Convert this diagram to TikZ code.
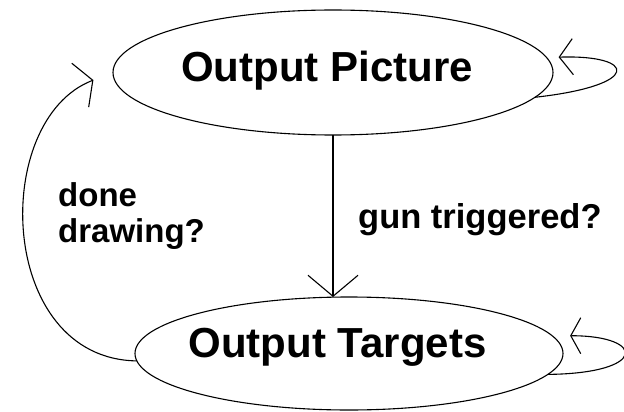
\documentclass[tikz,border=0pt]{standalone}
\usepackage{fontspec}
\setmainfont{Liberation Sans}
\usetikzlibrary{shapes.geometric,arrows.meta,calc}
\begin{document}
\begin{tikzpicture}[x=1pt,y=-1pt,
  state/.style={draw, ellipse, line width=1.1pt, inner sep=0pt, outer sep=0pt},
  lbl/.style={font=\bfseries\fontsize{42}{48}\selectfont, inner sep=0pt},
  edge/.style={line width=1.1pt},
  guard/.style={font=\bfseries\fontsize{33}{36}\selectfont, inner sep=0pt, align=left}]
\clip (0,0) rectangle (624,412);
\fill[white] (0,0) rectangle (624,412);

% the two states
\node[state, minimum width=440pt, minimum height=125pt,
      label={[lbl, xshift=-6pt, yshift=1.4pt]center:Output Picture}] (pic) at (333,72.5) {};
\node[state, minimum width=428pt, minimum height=113pt,
      label={[lbl, xshift=-11.5pt, yshift=6.4pt]center:Output Targets}] (tgt) at (349,353.5) {};

% transitions
\draw[edge, -{Straight Barb[length=21pt,width=50pt]}] (pic.south) -- (pic.south |- tgt.north);
\draw[edge, shorten >=12pt, -{Straight Barb[length=13.5pt,width=36pt]}]
  (pic.-7) .. controls +(108,-12) and +(90,-3) .. (pic.4);
\draw[edge, shorten >=18pt, -{Straight Barb[length=10pt,width=36pt]}]
  (tgt.-6) .. controls +(100,-1) and +(94,0) .. (tgt.5);
\draw[edge, shorten >=21pt, -{Straight Barb[length=13.5pt,width=47pt]}]
  (tgt.182) .. controls +(-140,-2) and +(-123,47.5) .. (pic.west);

% transition conditions
\node[guard, anchor=north west] (done) at (58,182) {done\\drawing?};
\node[guard, font=\bfseries\fontsize{34.5}{38}\selectfont, anchor=base west] (gun) at (358,228) {gun triggered?};
\end{tikzpicture}
\end{document}
